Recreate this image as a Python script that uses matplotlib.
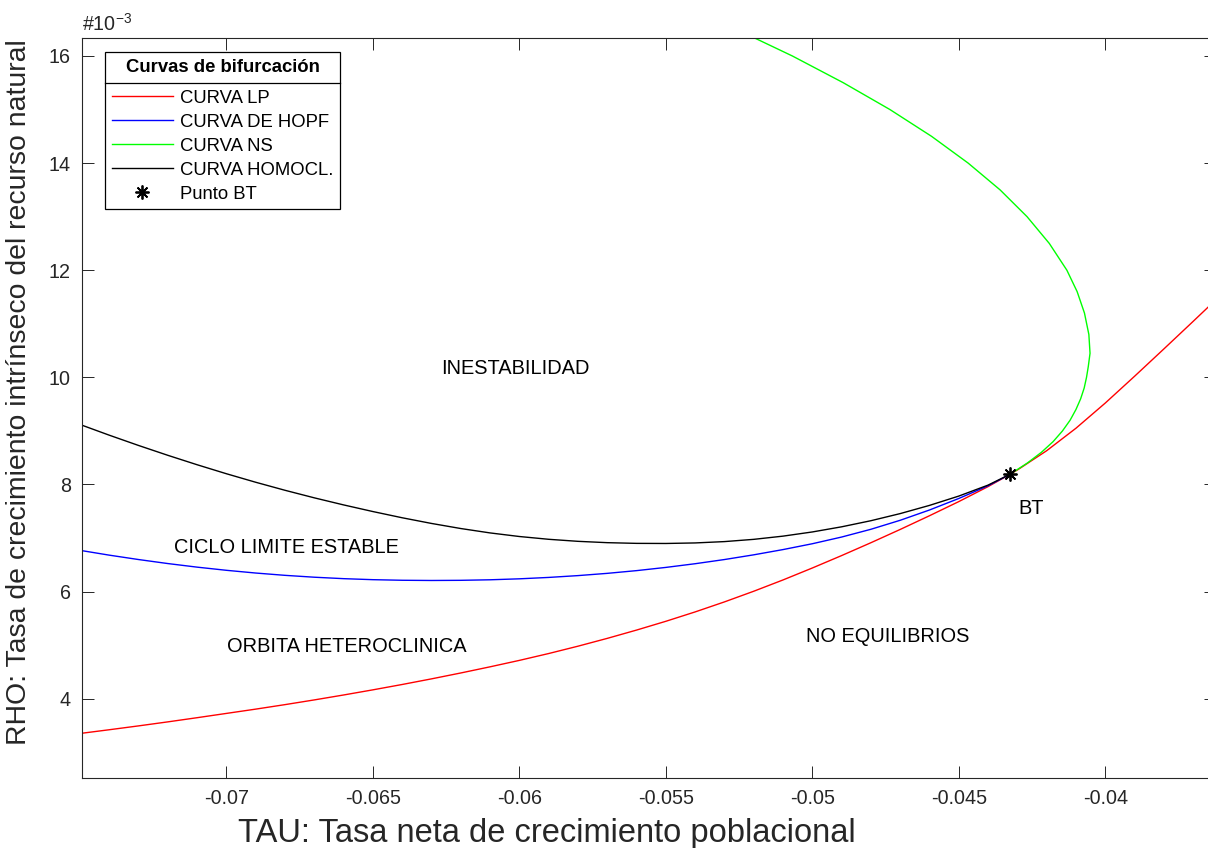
import matplotlib
matplotlib.use('Agg')
import matplotlib.pyplot as plt
from matplotlib.lines import Line2D

plt.rcParams['font.family'] = ['Liberation Sans', 'DejaVu Sans']

# bifurcation curves in the (tau, rho) plane; rho given in units of 1e-3
tau_lp = [-0.075, -0.074, -0.073, -0.072, -0.071, -0.070, -0.069, -0.068, -0.067,
          -0.066, -0.065, -0.064, -0.063, -0.062, -0.061, -0.060, -0.059, -0.058,
          -0.057, -0.056, -0.055, -0.054, -0.053, -0.052, -0.051, -0.050, -0.049,
          -0.048, -0.047, -0.046, -0.045, -0.044, -0.04325, -0.043, -0.042, -0.041,
          -0.040, -0.039, -0.038, -0.037, -0.036]
rho_lp = [3.350, 3.420, 3.492, 3.567, 3.645, 3.725, 3.805, 3.889, 3.977,
          4.069, 4.165, 4.265, 4.370, 4.480, 4.595, 4.715, 4.843, 4.980,
          5.126, 5.281, 5.445, 5.620, 5.807, 6.006, 6.217, 6.440, 6.672,
          6.912, 7.160, 7.416, 7.680, 7.960, 8.190, 8.270, 8.630, 9.050,
          9.520, 10.020, 10.530, 11.045, 11.565]

tau_hopf = [-0.075, -0.074, -0.073, -0.072, -0.071, -0.070, -0.069, -0.068, -0.067,
            -0.066, -0.065, -0.064, -0.063, -0.062, -0.061, -0.060, -0.059, -0.058,
            -0.057, -0.056, -0.055, -0.054, -0.053, -0.052, -0.051, -0.050, -0.049,
            -0.048, -0.047, -0.046, -0.045, -0.044, -0.04325]
rho_hopf = [6.770, 6.680, 6.598, 6.523, 6.456, 6.397, 6.346, 6.303, 6.268,
            6.241, 6.222, 6.211, 6.207, 6.210, 6.220, 6.238, 6.264, 6.298,
            6.340, 6.391, 6.451, 6.520, 6.598, 6.686, 6.784, 6.893, 7.018,
            7.163, 7.331, 7.523, 7.738, 7.976, 8.190]

tau_ns = [-0.04325, -0.04266, -0.04218, -0.04178, -0.04146, -0.04120, -0.04100,
          -0.04084, -0.04072, -0.04064, -0.04058, -0.04052, -0.04056, -0.04071,
          -0.04096, -0.04131, -0.04191, -0.04267, -0.04359, -0.04468, -0.04593,
          -0.04735, -0.04894, -0.05068, -0.05260, -0.05468]
rho_ns = [8.19, 8.40, 8.60, 8.80, 9.00, 9.20, 9.40,
          9.60, 9.80, 10.00, 10.20, 10.45, 10.80, 11.20,
          11.60, 12.00, 12.50, 13.00, 13.50, 14.00, 14.50,
          15.00, 15.50, 16.00, 16.50, 17.00]

tau_hom = [-0.075, -0.074, -0.073, -0.072, -0.071, -0.070, -0.069, -0.068, -0.067,
           -0.066, -0.065, -0.064, -0.063, -0.062, -0.061, -0.060, -0.059, -0.058,
           -0.057, -0.056, -0.055, -0.054, -0.053, -0.052, -0.051, -0.050, -0.049,
           -0.048, -0.047, -0.046, -0.045, -0.044, -0.04325]
rho_hom = [9.120, 8.920, 8.728, 8.544, 8.368, 8.200, 8.041, 7.891, 7.750,
           7.618, 7.494, 7.378, 7.272, 7.177, 7.095, 7.028, 6.976, 6.938,
           6.913, 6.900, 6.898, 6.908, 6.933, 6.975, 7.035, 7.113, 7.209,
           7.323, 7.456, 7.609, 7.783, 7.988, 8.190]

tau_bt = -0.04325
rho_bt = 8.19

region_names = ['INESTABILIDAD', 'CICLO LIMITE ESTABLE', 'ORBITA HETEROCLINICA',
                'NO EQUILIBRIOS', 'BT']
region_tau = [-0.06267, -0.07179, -0.06998, -0.05021, -0.04295]
region_rho = [10.16, 6.83, 4.98, 5.17, 7.56]

xticks = [-0.07, -0.065, -0.06, -0.055, -0.05, -0.045, -0.04]
xtick_labels = ['-0.07', '-0.065', '-0.06', '-0.055', '-0.05', '-0.045', '-0.04']
yticks = [4, 6, 8, 10, 12, 14, 16]

axcol = '#262626'

fig = plt.figure(figsize=(12.08, 8.48), dpi=100)
ax = fig.add_axes([82 / 1208, 70 / 848, 1134 / 1208, 740 / 848])

ax.plot(tau_lp, rho_lp, color='red', lw=1.0, label='CURVA LP')
ax.plot(tau_hopf, rho_hopf, color='blue', lw=1.0, label='CURVA DE HOPF')
ax.plot(tau_ns, rho_ns, color='#00ff00', lw=1.0, label='CURVA NS')
ax.plot(tau_hom, rho_hom, color='black', lw=1.0, label='CURVA HOMOCL.')
ax.plot([tau_bt], [rho_bt], linestyle='none', marker=(8, 2, 0), markersize=10,
        markeredgewidth=1.3, color='black', label='Punto BT')

for name, t, r in zip(region_names, region_tau, region_rho):
    ax.text(t, r, name, fontsize=14.4, ha='left', va='center', color='black')

ax.set_xlim(-0.07493, -0.03622)
ax.set_ylim(2.519, 16.336)
ax.set_xticks(xticks)
ax.set_xticklabels(xtick_labels)
ax.set_yticks(yticks)
ax.set_yticklabels([str(v) for v in yticks])
ax.tick_params(direction='in', length=8.5, width=0.7, top=True, right=True,
               labelsize=14.2, colors=axcol, pad=8)
for sp in ax.spines.values():
    sp.set_color(axcol)
    sp.set_linewidth(0.8)

ax.text(0.0, 1.005, r'#10$^{\mathregular{-3}}$', transform=ax.transAxes,
        fontsize=14.2, color=axcol, ha='left', va='bottom')

ax.set_xlabel('TAU: Tasa neta de crecimiento poblacional', fontsize=23.5, color=axcol)
ax.set_ylabel('RHO: Tasa de crecimiento intrínseco del recurso natural',
              fontsize=20.4, color=axcol)
ax.xaxis.set_label_coords(0.41, -0.054)
ax.yaxis.set_label_coords(-0.044, 0.522)

leg = ax.legend(loc='upper left', bbox_to_anchor=(0.0203, 0.981), borderaxespad=0,
                fontsize=13.3, handlelength=3.3, handletextpad=0.4,
                labelspacing=0.38, borderpad=0.36, fancybox=False, framealpha=1,
                edgecolor='black')
leg.set_title('Curvas de bifurcación', prop={'weight': 'bold', 'size': 13.3})
leg.get_frame().set_linewidth(0.9)
# more room between the title and the entries
leg._legend_box.sep = 10

# separator between legend title and entries
fig.canvas.draw()
renderer = fig.canvas.get_renderer()
fb = leg.get_frame().get_window_extent(renderer)
tb = leg.get_title().get_window_extent(renderer)
eb = leg.get_texts()[0].get_window_extent(renderer)
ysep = 0.5 * (tb.y0 + eb.y1)
inv = fig.transFigure.inverted()
(x0, y0), (x1, _) = inv.transform([(fb.x0, ysep), (fb.x1, ysep)])
fig.add_artist(Line2D([x0, x1], [y0, y0], transform=fig.transFigure,
                      color='black', lw=0.9))

fig.savefig('out.png', dpi=100)
